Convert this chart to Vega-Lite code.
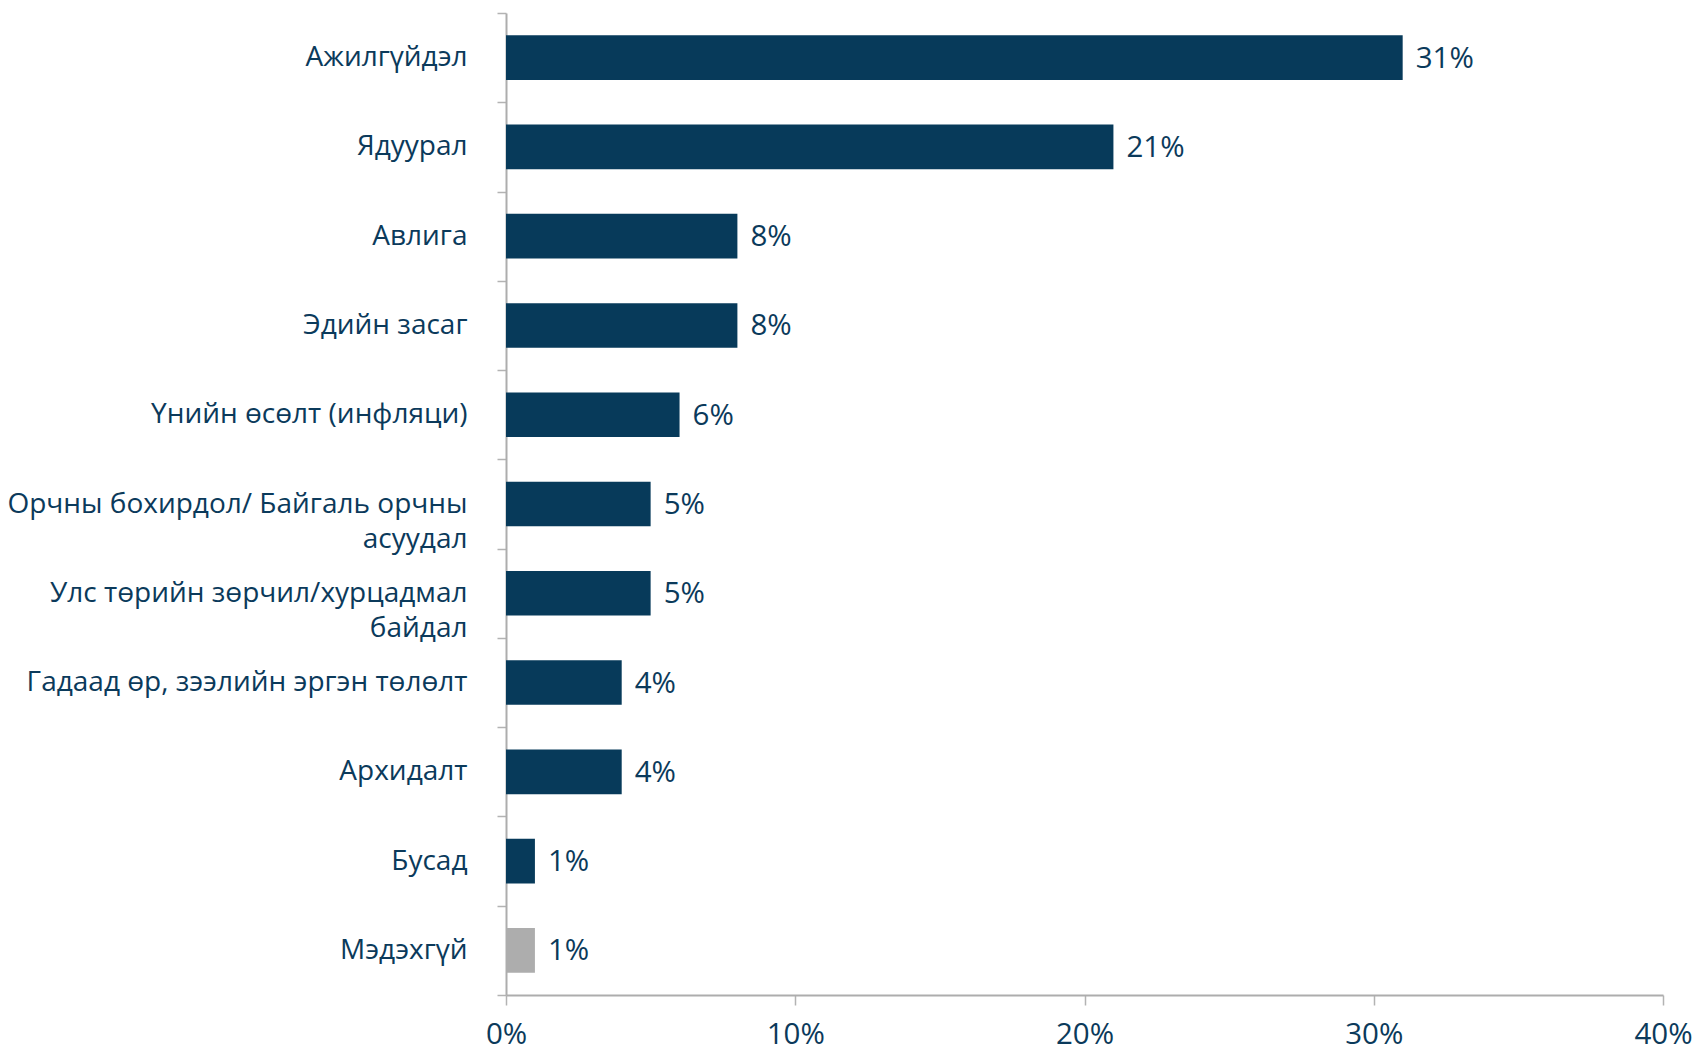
{
  "$schema": "https://vega.github.io/schema/vega-lite/v6.json",
  "width": 1157,
  "height": 982,
  "autosize": {"type": "none"},
  "padding": {"left": 506, "top": 13, "right": 36, "bottom": 59},
  "background": "white",
  "config": {
    "view": {"stroke": null},
    "font": "Open Sans"
  },
  "data": {
    "values": [
      {"cat": "Ажилгүйдэл", "value": 31, "label": "31%", "grp": "a"},
      {"cat": "Ядуурал", "value": 21, "label": "21%", "grp": "a"},
      {"cat": "Авлига", "value": 8, "label": "8%", "grp": "a"},
      {"cat": "Эдийн засаг", "value": 8, "label": "8%", "grp": "a"},
      {"cat": "Үнийн өсөлт (инфляци)", "value": 6, "label": "6%", "grp": "a"},
      {"cat": "Орчны бохирдол/ Байгаль орчны|асуудал", "value": 5, "label": "5%", "grp": "a"},
      {"cat": "Улс төрийн зөрчил/хурцадмал|байдал", "value": 5, "label": "5%", "grp": "a"},
      {"cat": "Гадаад өр, зээлийн эргэн төлөлт", "value": 4, "label": "4%", "grp": "a"},
      {"cat": "Архидалт", "value": 4, "label": "4%", "grp": "a"},
      {"cat": "Бусад", "value": 1, "label": "1%", "grp": "a"},
      {"cat": "Мэдэхгүй", "value": 1, "label": "1%", "grp": "b"}
    ]
  },
  "encoding": {
    "y": {
      "field": "cat",
      "type": "nominal",
      "sort": null,
      "title": null,
      "scale": {"paddingInner": 0, "paddingOuter": 0},
      "axis": {
        "labelExpr": "split(datum.label, '|')",
        "labelFontSize": 28,
        "labelColor": "#0B3A5B",
        "labelPadding": 30,
        "labelLineHeight": 35,
        "labelLimit": 600,
        "tickBand": "extent",
        "tickSize": 9,
        "tickColor": "#B3B3B3",
        "tickWidth": 1.5,
        "domainColor": "#ADADAD",
        "domainWidth": 2,
        "grid": false
      }
    },
    "x": {
      "field": "value",
      "type": "quantitative",
      "title": null,
      "scale": {"domain": [0, 40]},
      "axis": {
        "values": [0, 10, 20, 30, 40],
        "labelExpr": "datum.value + '%'",
        "labelFontSize": 29.5,
        "labelColor": "#0B3A5B",
        "labelPadding": 15,
        "tickSize": 10,
        "tickColor": "#B3B3B3",
        "tickWidth": 1.5,
        "domainColor": "#ADADAD",
        "domainWidth": 2,
        "grid": false,
        "labelFlush": false
      }
    }
  },
  "layer": [
    {
      "mark": {"type": "bar", "height": {"band": 0.5}},
      "encoding": {
        "color": {
          "field": "grp",
          "type": "nominal",
          "legend": null,
          "scale": {"domain": ["a", "b"], "range": ["#073A5A", "#ADADAD"]}
        }
      }
    },
    {
      "mark": {"type": "text", "align": "left", "baseline": "middle", "dx": 13, "dy": 1, "fontSize": 29.5, "color": "#0B3A5B"},
      "encoding": {"text": {"field": "label"}}
    }
  ]
}
